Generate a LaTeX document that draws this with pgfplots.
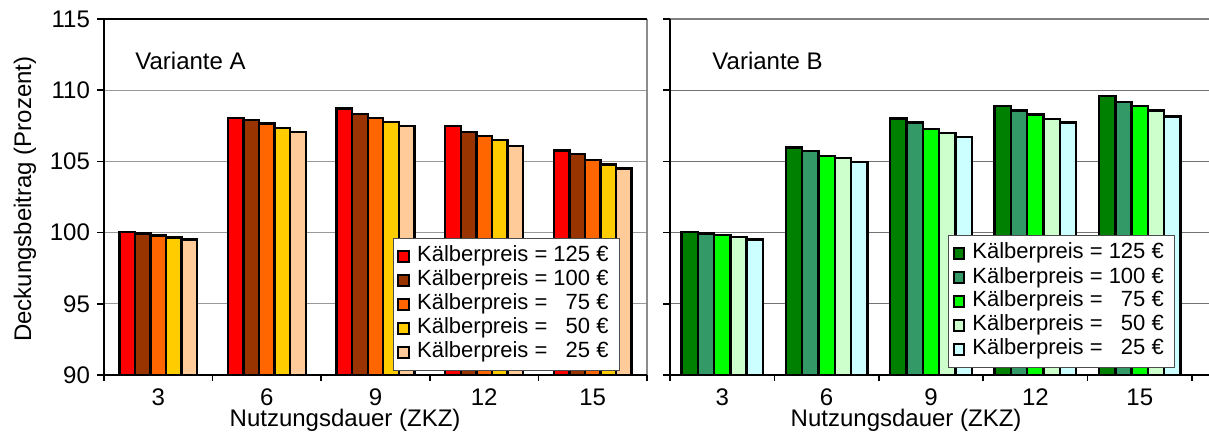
\documentclass[border=0pt]{standalone}
\usepackage{fontspec}
\setmainfont{Liberation Sans}
\usepackage{pgfplots}
\usepackage{pgfplotstable}
\pgfplotsset{compat=1.18}

\definecolor{cA}{HTML}{FF0000}
\definecolor{cB}{HTML}{993300}
\definecolor{cC}{HTML}{FF6600}
\definecolor{cD}{HTML}{FFCC00}
\definecolor{cE}{HTML}{FFCC99}
\definecolor{gA}{HTML}{008000}
\definecolor{gB}{HTML}{339966}
\definecolor{gC}{HTML}{00FF00}
\definecolor{gD}{HTML}{CCFFCC}
\definecolor{gE}{HTML}{CCFFFF}

\pgfplotstableread{
x a b c d e
0 100.06 99.93 99.80 99.67 99.53
1 108.03 107.90 107.65 107.35 107.05
2 108.72 108.33 108.05 107.75 107.47
3 107.48 107.06 106.80 106.52 106.10
4 105.78 105.54 105.10 104.78 104.50
}\tabA

\pgfplotstableread{
x a b c d e
0 100.05 99.95 99.83 99.69 99.53
1 105.99 105.71 105.38 105.22 104.95
2 108.02 107.73 107.27 106.98 106.70
3 108.90 108.58 108.30 107.99 107.72
4 109.58 109.17 108.87 108.57 108.14
}\tabB

\pgfplotsset{
  panel/.style={
    scale only axis, height=178pt,
    ymin=90, ymax=115, ytick={90,95,...,115},
    ytick pos=left, xtick pos=bottom,
    tick align=outside, major tick length=3.5pt,
    xtick={0,1,2,3,4}, xticklabels={3,6,9,12,15},
    every major x tick/.style={draw=none},
    minor xtick={-0.5,0.5,1.5,2.5,3.5,4.5},
    minor tick length=3pt,
    every minor x tick/.style={black, line width=0.8pt},
    every major y tick/.style={black, line width=0.8pt},
    axis line style={draw=none},
    ymajorgrids,
    clip=false,
    ybar, 
    /pgf/number format/assume math mode=true,
    tick label style={font=\fontsize{12}{14}\selectfont},
    label style={font=\fontsize{12}{14}\selectfont},
    every axis plot/.append style={draw=black, line width=1.2pt},
    legend cell align=left,
    legend image code/.code={\draw[#1,line width=1pt] (0pt,-2.7pt) rectangle (5.4pt,2.7pt);},
    legend style={font=\fontsize{11}{12}\selectfont, draw=black!70, line width=0.5pt, fill=white,
      anchor=north west, inner xsep=2pt, inner ysep=3pt,
      nodes={inner ysep=0.5pt, inner xsep=3.5pt, text height=8.2pt, text depth=2.8pt}},
  }
}

\begin{document}
\begin{tikzpicture}
\path[use as bounding box] (0,0) rectangle (604.5pt,218pt);
% ---------------- Variante A
\begin{axis}[panel,
  at={(52pt,30.5pt)}, anchor=south west, width=271.5pt,
  xmin=-0.5, xmax=4.5, bar width=0.143,
  grid style={black!40, line width=0.6pt},
  xlabel={Nutzungsdauer (ZKZ)},
  xlabel style={at={(axis description cs:0.444,0)}, anchor=north, inner sep=0pt, yshift=-17pt},
  ylabel={Deckungsbeitrag (Prozent)},
  ylabel style={at={(axis description cs:-0.1455,0.494)}, anchor=center, inner sep=0pt},
  legend style={at={(axis description cs:0.532,0.385)}},
]
\addplot[fill=cA, bar shift=-0.286] table[x=x,y=a] {\tabA};
\addplot[fill=cB, bar shift=-0.143] table[x=x,y=b] {\tabA};
\addplot[fill=cC, bar shift=0] table[x=x,y=c] {\tabA};
\addplot[fill=cD, bar shift=0.143] table[x=x,y=d] {\tabA};
\addplot[fill=cE, bar shift=0.286] table[x=x,y=e] {\tabA};
\legend{Kälberpreis = 125 €, Kälberpreis = 100 €, Kälberpreis = \phantom{1}75 €, Kälberpreis = \phantom{1}50 €, Kälberpreis = \phantom{1}25 €}
\draw[black!45, line width=0.8pt] (rel axis cs:1,1) -- (rel axis cs:1,0);
\draw[black, line width=1pt] (rel axis cs:1,0) -- (rel axis cs:0,0) -- (rel axis cs:0,1) -- (rel axis cs:1,1);
\node[anchor=west, inner sep=0pt, font=\fontsize{12}{14}\selectfont] at (axis description cs:0.057,0.882) {Variante A};
\end{axis}
% ---------------- Variante B
\begin{axis}[panel,
  at={(335pt,30.5pt)}, anchor=south west, width=269.5pt,
  xmin=-0.5, xmax=4.663, bar width=0.156,
  grid style={black!55, line width=0.6pt},
  yticklabels={},
  xlabel={Nutzungsdauer (ZKZ)},
  xlabel style={at={(axis description cs:0.438,0)}, anchor=north, inner sep=0pt, yshift=-17pt},
  legend style={at={(axis description cs:0.516,0.393)}},
]
\addplot[fill=gA, bar shift=-0.312] table[x=x,y=a] {\tabB};
\addplot[fill=gB, bar shift=-0.156] table[x=x,y=b] {\tabB};
\addplot[fill=gC, bar shift=0] table[x=x,y=c] {\tabB};
\addplot[fill=gD, bar shift=0.156] table[x=x,y=d] {\tabB};
\addplot[fill=gE, bar shift=0.312] table[x=x,y=e] {\tabB};
\legend{Kälberpreis = 125 €, Kälberpreis = 100 €, Kälberpreis = \phantom{1}75 €, Kälberpreis = \phantom{1}50 €, Kälberpreis = \phantom{1}25 €}
\draw[black!50, line width=1pt] (rel axis cs:0,1) -- (rel axis cs:1,1);
\draw[black, line width=1pt] (rel axis cs:1,0) -- (rel axis cs:0,0) -- (rel axis cs:0,1);
\node[anchor=west, inner sep=0pt, font=\fontsize{12}{14}\selectfont] at (axis description cs:0.078,0.882) {Variante B};
\end{axis}
\end{tikzpicture}
\end{document}
